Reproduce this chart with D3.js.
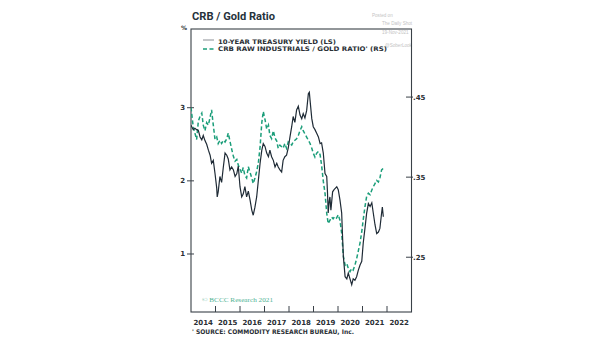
<!DOCTYPE html>
<html><head><meta charset="utf-8">
<script src="https://cdn.jsdelivr.net/npm/d3@7"></script>
<style>
html,body{margin:0;padding:0;background:#fff;}
svg{display:block;}
</style></head>
<body>
<svg id="chart" width="605" height="341"></svg>
<script>
// ---- data (decimal years) ----
const yieldDates = [2014.00,2014.09,2014.16,2014.23,2014.30,2014.37,2014.44,2014.50,2014.57,2014.64,2014.71,2014.78,2014.84,2014.91,2014.98,2015.05,2015.07,2015.11,2015.18,2015.25,2015.32,2015.39,2015.46,2015.52,2015.59,2015.66,2015.73,2015.80,2015.87,2015.93,2016.00,2016.07,2016.13,2016.20,2016.27,2016.34,2016.41,2016.48,2016.54,2016.61,2016.68,2016.75,2016.82,2016.89,2016.95,2017.02,2017.09,2017.16,2017.22,2017.29,2017.36,2017.43,2017.50,2017.56,2017.63,2017.70,2017.76,2017.83,2017.90,2017.97,2018.04,2018.11,2018.17,2018.24,2018.31,2018.38,2018.45,2018.52,2018.58,2018.65,2018.72,2018.79,2018.83,2018.86,2018.93,2018.99,2019.06,2019.13,2019.20,2019.27,2019.33,2019.40,2019.47,2019.54,2019.57,2019.60,2019.64,2019.67,2019.71,2019.78,2019.84,2019.95,2020.01,2020.08,2020.15,2020.19,2020.22,2020.29,2020.36,2020.42,2020.49,2020.56,2020.62,2020.69,2020.76,2020.83,2020.90,2020.97,2021.03,2021.10,2021.17,2021.24,2021.31,2021.38,2021.44,2021.51,2021.58,2021.65,2021.71,2021.78,2021.81,2021.85];
const yieldValues = [2.76,2.70,2.72,2.70,2.69,2.60,2.56,2.62,2.55,2.50,2.42,2.35,2.24,2.28,2.10,1.90,1.78,1.85,2.06,1.98,2.19,2.38,2.35,2.30,2.15,2.19,2.15,2.06,2.10,2.20,1.92,1.78,1.82,1.92,1.78,1.86,1.74,1.60,1.53,1.64,1.78,2.01,2.24,2.42,2.51,2.47,2.38,2.33,2.42,2.33,2.28,2.19,2.24,2.19,2.15,2.12,2.28,2.33,2.35,2.45,2.60,2.74,2.88,2.80,2.97,3.02,2.90,2.85,2.92,2.86,2.96,3.19,3.21,3.10,2.85,2.74,2.70,2.65,2.60,2.51,2.52,2.38,2.10,2.06,1.85,1.56,1.72,1.78,1.60,1.85,1.88,1.92,1.88,1.74,1.56,1.20,0.96,0.69,0.66,0.74,0.66,0.58,0.66,0.64,0.69,0.78,0.85,0.90,1.15,1.35,1.56,1.69,1.65,1.70,1.56,1.40,1.28,1.30,1.35,1.56,1.64,1.51];

const ratioDates = [2014.00,2014.09,2014.16,2014.23,2014.30,2014.37,2014.44,2014.50,2014.57,2014.64,2014.71,2014.78,2014.84,2014.91,2014.98,2015.05,2015.11,2015.18,2015.25,2015.32,2015.39,2015.46,2015.52,2015.59,2015.66,2015.73,2015.80,2015.87,2015.93,2016.00,2016.07,2016.13,2016.20,2016.27,2016.34,2016.41,2016.48,2016.54,2016.61,2016.68,2016.75,2016.82,2016.89,2016.95,2017.02,2017.09,2017.16,2017.22,2017.29,2017.36,2017.43,2017.50,2017.56,2017.63,2017.70,2017.76,2017.83,2017.90,2017.97,2018.04,2018.11,2018.17,2018.24,2018.31,2018.38,2018.45,2018.52,2018.58,2018.65,2018.72,2018.79,2018.86,2018.93,2018.99,2019.06,2019.13,2019.20,2019.27,2019.33,2019.40,2019.47,2019.54,2019.60,2019.67,2019.74,2019.80,2019.87,2019.94,2020.01,2020.08,2020.15,2020.22,2020.29,2020.36,2020.42,2020.49,2020.56,2020.62,2020.69,2020.76,2020.83,2020.90,2020.97,2021.03,2021.10,2021.17,2021.24,2021.31,2021.38,2021.44,2021.51,2021.58,2021.65,2021.71,2021.78,2021.85];
const ratioValues = [0.437,0.413,0.405,0.397,0.420,0.426,0.430,0.415,0.408,0.418,0.415,0.425,0.434,0.415,0.397,0.400,0.392,0.396,0.392,0.396,0.394,0.398,0.405,0.395,0.385,0.376,0.370,0.372,0.365,0.360,0.355,0.362,0.352,0.349,0.363,0.356,0.349,0.342,0.349,0.357,0.368,0.388,0.418,0.432,0.422,0.410,0.415,0.402,0.398,0.408,0.399,0.395,0.386,0.390,0.388,0.386,0.392,0.386,0.394,0.392,0.390,0.394,0.396,0.398,0.402,0.408,0.413,0.408,0.404,0.400,0.396,0.392,0.386,0.380,0.375,0.380,0.382,0.378,0.365,0.345,0.330,0.305,0.292,0.296,0.300,0.298,0.301,0.299,0.303,0.296,0.280,0.251,0.240,0.242,0.236,0.232,0.236,0.234,0.240,0.248,0.258,0.268,0.282,0.297,0.313,0.326,0.330,0.328,0.334,0.338,0.342,0.346,0.344,0.349,0.359,0.361];

const yearTicks = [2015,2016,2017,2018,2019,2020,2021,2022];
const yearLabels = [2014,2015,2016,2017,2018,2019,2020,2021,2022];
const leftTicks = [1,2,3];
const rightTicks = [0.25,0.35,0.45];
const rightTickLabels = [".25",".35",".45"];
const legendLabels = ["10-YEAR TREASURY YIELD (LS)","CRB RAW INDUSTRIALS / GOLD RATIO' (RS)"];

// ---- layout ----
const L = 191, R = 411.5, T = 29, B = 312;
const dark = "#1f2b36", green = "#1b9e7a", textc = "#2a2f35";
const svg = d3.select("#chart");

const x = d3.scaleLinear().domain([2014, 2023]).range([L, R]);
const yL = d3.scaleLinear().domain([0.207, 4.076]).range([B, T]);
const yR = d3.scaleLinear().domain([0.1816, 0.535]).range([B, T]);

// title
svg.append("text").attr("x", 192).attr("y", 20)
  .attr("font-family", "'Liberation Sans Narrow','Roboto','Liberation Sans',sans-serif")
  .attr("font-weight", "bold").attr("font-size", 11.5).attr("fill", "#26323b")
  .attr("textLength", 83).attr("lengthAdjust", "spacingAndGlyphs")
  .text("CRB / Gold Ratio");

// watermark
const wm = [["Posted on",372,16.5],["The Daily Shot",382,25],["19-Nov-2021",382,33.5],["@SoberLook",385,47]];
wm.forEach(w => svg.append("text").attr("x", w[1]).attr("y", w[2])
  .attr("font-family","'Liberation Sans',sans-serif").attr("font-size",4.6).attr("fill","#c4c4c4").text(w[0]));

// frame
svg.append("rect").attr("x", L).attr("y", T).attr("width", R - L).attr("height", B - T)
  .attr("fill", "none").attr("stroke", "#3a4148").attr("stroke-width", 1.1);

// % label
svg.append("text").attr("x", 181).attr("y", 30).attr("font-family","'DejaVu Sans',sans-serif")
  .attr("font-size", 6).attr("font-weight","bold").attr("fill", textc).text("%");

// left axis ticks
const lt = svg.append("g");
leftTicks.forEach(v => {
  lt.append("line").attr("x1", 187).attr("x2", 194).attr("y1", yL(v)).attr("y2", yL(v)).attr("stroke", "#3a4148").attr("stroke-width", 1);
  lt.append("text").attr("x", 185).attr("y", yL(v) + 2.5).attr("text-anchor", "end")
    .attr("font-family","'DejaVu Sans',sans-serif").attr("font-size", 7).attr("font-weight","bold").attr("fill", textc).text(d3.format("d")(v));
});
// right axis ticks
rightTicks.forEach((v, i) => {
  lt.append("line").attr("x1", 406).attr("x2", 413).attr("y1", yR(v)).attr("y2", yR(v)).attr("stroke", "#3a4148").attr("stroke-width", 1);
  lt.append("text").attr("x", 413).attr("y", yR(v) + 2.5)
    .attr("font-family","'DejaVu Sans',sans-serif").attr("font-size", 7).attr("font-weight","bold").attr("fill", textc).text(rightTickLabels[i]);
});
// x ticks
yearTicks.forEach(t => {
  lt.append("line").attr("x1", x(t)).attr("x2", x(t)).attr("y1", B - 6).attr("y2", B).attr("stroke", "#3a4148").attr("stroke-width", 1);
});
yearLabels.forEach(t => {
  lt.append("text").attr("x", x(t + 0.5)).attr("y", 324.5).attr("text-anchor", "middle")
    .attr("font-family","'DejaVu Sans',sans-serif").attr("font-size", 7).attr("font-weight","bold").attr("fill", textc).text(t);
});

// clip
svg.append("clipPath").attr("id","clip").append("rect").attr("x", L).attr("y", T).attr("width", R - L).attr("height", B - T);

// lines
const yieldData = yieldDates.map((d, i) => [d, yieldValues[i]]);
const ratioData = ratioDates.map((d, i) => [d, ratioValues[i]]);
const g = svg.append("g").attr("clip-path", "url(#clip)");
g.append("path").datum(ratioData)
  .attr("d", d3.line().x(d => x(d[0])).y(d => yR(d[1])))
  .attr("fill","none").attr("stroke", green).attr("stroke-width", 1.5).attr("stroke-dasharray","4,2.5");
g.append("path").datum(yieldData)
  .attr("d", d3.line().x(d => x(d[0])).y(d => yL(d[1])))
  .attr("fill","none").attr("stroke", dark).attr("stroke-width", 1.2);

// legend
svg.append("line").attr("x1", 203).attr("x2", 214).attr("y1", 40).attr("y2", 40).attr("stroke", "#8a8f94").attr("stroke-width", 1);
svg.append("line").attr("x1", 203).attr("x2", 214).attr("y1", 49).attr("y2", 49).attr("stroke", green).attr("stroke-width", 1.3).attr("stroke-dasharray","4,2.5");
svg.append("text").attr("x", 218).attr("y", 43.5).attr("font-family","'DejaVu Sans',sans-serif")
  .attr("font-size", 6.3).attr("font-weight","bold").attr("fill", textc)
  .attr("textLength", 118).attr("lengthAdjust","spacingAndGlyphs").text(legendLabels[0]);
svg.append("text").attr("x", 218).attr("y", 51).attr("font-family","'DejaVu Sans',sans-serif")
  .attr("font-size", 6.3).attr("font-weight","bold").attr("fill", textc)
  .attr("textLength", 169).attr("lengthAdjust","spacingAndGlyphs").text(legendLabels[1]);

// copyright
svg.append("text").attr("x", 202).attr("y", 301.5).attr("font-family","'Liberation Serif','DejaVu Serif',serif")
  .attr("font-size", 7).attr("fill", "#4fb394")
  .attr("textLength", 71).attr("lengthAdjust","spacingAndGlyphs").text("© BCCC Research 2021");

// footnote
svg.append("text").attr("x", 192).attr("y", 334).attr("font-family","'DejaVu Sans',sans-serif")
  .attr("font-size", 6.3).attr("font-weight","bold").attr("fill", textc)
  .attr("textLength", 162).attr("lengthAdjust","spacingAndGlyphs").text("'  SOURCE: COMMODITY RESEARCH BUREAU, Inc.");
</script>
</body></html>
